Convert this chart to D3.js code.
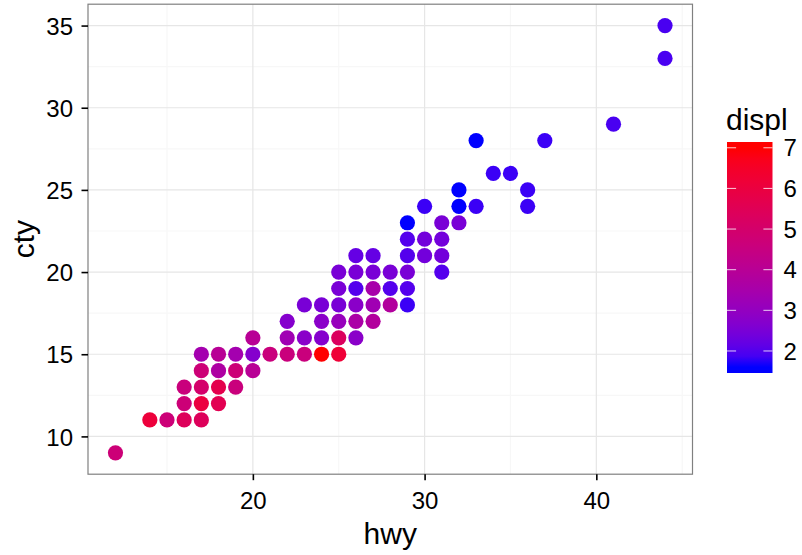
<!DOCTYPE html>
<html><head><meta charset="utf-8">
<script src="https://cdn.jsdelivr.net/npm/d3@7"></script>
<style>
html,body{margin:0;padding:0;background:#fff;}
svg{display:block;font-family:"Liberation Sans",Arial,Helvetica,sans-serif;}
</style></head>
<body>
<svg id="chart" width="802" height="555"></svg>
<script>
// unique visible points (top-most point at each location)
const hwy   = [12, 14,15,16,17, 16,17,18, 16,17,18,19, 17,18,19,20, 17,18,19,20,21,22,23,24,25, 20,22,23,24,25,26, 22,24,25,26,27, 23,24,25,26,27,28,29, 25,26,27,28,29, 25,26,27,28,29,31, 26,27,29,30,31, 29,30,31, 29,31,32, 30,32,33,36, 32,36, 34,35, 33,37, 41, 44,44];
const cty   = [9, 11,11,11,11, 12,12,12, 13,13,13,13, 14,14,14,14, 15,15,15,15,15,15,15,15,15, 16,16,16,16,16,16, 17,17,17,17,17, 18,18,18,18,18,18,18, 19,19,19,19,19, 20,20,20,20,20,20, 21,21,21,21,21, 22,22,22, 23,23,23, 24,24,24,24, 25,25, 26,26, 28,28, 29, 33,35];
const displ = [4.7, 6.1,4.7,5.4,5.4, 4.7,6.0,5.6, 4.6,5.0,5.7,4.6, 4.7,3.7,4.7,4.0, 3.4,4.0,3.4,2.7,4.6,4.6,4.6,7.0,6.2, 4.0,3.3,2.8,2.7,5.3,2.8, 2.7,2.8,3.1,3.6,3.8, 2.5,2.5,2.5,2.8,3.3,3.8,1.8, 2.5,2.0,3.5,2.0,2.0, 2.5,2.5,2.5,2.5,2.5,2.0, 2.2,2.2,2.0,2.4,2.4, 2.0,2.4,2.4, 1.6,2.5,2.5, 1.8,1.6,1.8,1.8, 1.6,1.8, 1.8,1.8, 1.6,1.8, 1.9, 1.9,1.9];
const xTicks = [20, 30, 40];
const yTicks = [10, 15, 20, 25, 30, 35];
const xMinor = [15, 25, 35, 45];
const yMinor = [12.5, 17.5, 22.5, 27.5, 32.5];
const legendTicks = [2, 3, 4, 5, 6, 7];
const displRange = [1.6, 7.0];

const svg = d3.select("#chart");
const P = {left: 88, right: 692.5, top: 4.2, bottom: 474.2};

const x = d3.scaleLinear().domain([10.4, 45.6]).range([P.left, P.right]);
const y = d3.scaleLinear().domain([7.7, 36.3]).range([P.bottom, P.top]);
const color = d3.scaleLinear().domain(displRange).range(["#0000ff", "#ff0000"]).interpolate(d3.interpolateLab);

svg.append("rect").attr("x", P.left).attr("y", P.top).attr("width", P.right - P.left).attr("height", P.bottom - P.top).attr("fill", "#fff");

// minor grid
const g = svg.append("g");
xMinor.filter(v => x(v) < P.right).forEach(v => g.append("line").attr("x1", x(v)).attr("x2", x(v)).attr("y1", P.top).attr("y2", P.bottom).attr("stroke", "#f7f7f7").attr("stroke-width", 1.2));
yMinor.forEach(v => g.append("line").attr("x1", P.left).attr("x2", P.right).attr("y1", y(v)).attr("y2", y(v)).attr("stroke", "#f7f7f7").attr("stroke-width", 1.2));
// major grid
xTicks.forEach(v => g.append("line").attr("x1", x(v)).attr("x2", x(v)).attr("y1", P.top).attr("y2", P.bottom).attr("stroke", "#e6e6e6").attr("stroke-width", 1.2));
yTicks.forEach(v => g.append("line").attr("x1", P.left).attr("x2", P.right).attr("y1", y(v)).attr("y2", y(v)).attr("stroke", "#e6e6e6").attr("stroke-width", 1.2));

// points
const pts = hwy.map((h, i) => ({h, c: cty[i], d: displ[i]}));
svg.append("g").selectAll("circle").data(pts).enter().append("circle")
  .attr("cx", d => x(d.h)).attr("cy", d => y(d.c)).attr("r", 7.6)
  .attr("fill", d => color(d.d));

// panel border
svg.append("rect").attr("x", P.left).attr("y", P.top).attr("width", P.right - P.left).attr("height", P.bottom - P.top)
  .attr("fill", "none").attr("stroke", "#808080").attr("stroke-width", 1.2);

// axes
const xAxis = d3.axisBottom(x).tickValues(xTicks).tickSize(6).tickPadding(0);
const yAxis = d3.axisLeft(y).tickValues(yTicks).tickSize(6.5).tickPadding(8.5);
const gx = svg.append("g").attr("transform", `translate(0,${P.bottom})`).call(xAxis);
const gy = svg.append("g").attr("transform", `translate(${P.left},0)`).call(yAxis);
[gx, gy].forEach(a => {
  a.select(".domain").remove();
  a.selectAll(".tick line").attr("stroke", "#000").attr("stroke-width", 1.6);
  a.selectAll(".tick text").attr("fill", "#000").attr("font-size", 24).attr("font-family", "Liberation Sans, Arial, sans-serif");
});
gy.selectAll(".tick text").attr("dy", "0.36em");
gx.selectAll(".tick text").attr("y", 35).attr("dy", 0);

// axis titles
svg.append("text").attr("x", (P.left + P.right) / 2).attr("y", 544).attr("text-anchor", "middle")
  .attr("font-size", 30).attr("fill", "#000").text("hwy");
svg.append("text").attr("transform", `translate(34,${(P.top + P.bottom) / 2}) rotate(-90)`).attr("text-anchor", "middle")
  .attr("font-size", 30).attr("fill", "#000").text("cty");

// legend
const L = {x: 727, y: 142, w: 45.5, h: 231};
const nbin = 20, half = L.h / nbin / 2;
const ly = d3.scaleLinear().domain(displRange).range([L.y + L.h - half, L.y + half]);
const defs = svg.append("defs");
const grad = defs.append("linearGradient").attr("id", "cbar").attr("x1", 0).attr("y1", 1).attr("x2", 0).attr("y2", 0);
d3.range(0, 1.0001, 0.05).forEach(t => {
  const v = displRange[0] + t * (displRange[1] - displRange[0]);
  grad.append("stop").attr("offset", (half + t * (L.h - 2 * half)) / L.h).attr("stop-color", color(v));
});
svg.append("rect").attr("x", L.x).attr("y", L.y).attr("width", L.w).attr("height", L.h).attr("fill", "url(#cbar)");
const tl = L.w / 5;
legendTicks.forEach(v => {
  svg.append("line").attr("x1", L.x).attr("x2", L.x + tl).attr("y1", ly(v)).attr("y2", ly(v)).attr("stroke", "#fff").attr("stroke-opacity", 0.8).attr("stroke-width", 1);
  svg.append("line").attr("x1", L.x + L.w - tl).attr("x2", L.x + L.w).attr("y1", ly(v)).attr("y2", ly(v)).attr("stroke", "#fff").attr("stroke-opacity", 0.8).attr("stroke-width", 1);
  svg.append("text").attr("x", L.x + L.w + 11).attr("y", ly(v)).attr("dy", "0.36em").attr("font-size", 24).attr("fill", "#000").text(v);
});
svg.append("text").attr("x", L.x - 1).attr("y", 130).attr("font-size", 30).attr("fill", "#000").text("displ");
</script>
</body></html>
